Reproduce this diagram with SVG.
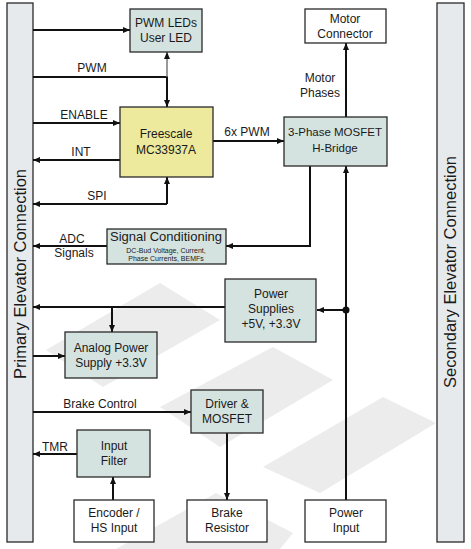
<svg xmlns="http://www.w3.org/2000/svg" width="471" height="549" viewBox="0 0 471 549">
<defs>
<style>
text{font-family:"Liberation Sans",Arial,sans-serif;fill:#1a1a1a;}
.t{font-size:12px;text-anchor:middle;}
.l{font-size:12px;text-anchor:middle;}
.s{font-size:7px;text-anchor:middle;}
.big{font-size:16.5px;text-anchor:middle;}
.box{fill:#D5E3E0;stroke:#2a2a2a;stroke-width:1.3;}
.wbox{fill:#ffffff;stroke:#2a2a2a;stroke-width:1.3;}
.ybox{fill:#EDE99D;stroke:#2a2a2a;stroke-width:1.3;}
.bar{fill:#E7EAEC;stroke:#2a2a2a;stroke-width:1.3;}
.c{fill:none;stroke:#111;stroke-width:2;}
.cg{fill:none;stroke:#777;stroke-width:1.5;}
.wm{fill:#ECECEC;}
</style>
<marker id="a" markerUnits="userSpaceOnUse" markerWidth="8" markerHeight="8" refX="7" refY="3" orient="auto">
<path d="M0,0 L7,3 L0,6 z" fill="#111"/>
</marker>
</defs>
<rect width="471" height="549" fill="#ffffff"/>
<g id="watermark">
<polygon class="wm" points="46,350 160,283 220,320 103,387"/>
<polygon class="wm" points="160,407 273,347 333,380 220,447"/>
<polygon class="wm" points="263,467 383,397 436,423 320,493"/>
<polygon class="wm" points="116,549 216,493 293,533 280,549"/>
</g>
<g id="primary-bar">
<rect class="bar" x="7" y="3" width="26" height="539"/>
<text class="big" transform="translate(26,274) rotate(-90)">Primary Elevator Connection</text>
</g>
<g id="secondary-bar">
<rect class="bar" x="437" y="3" width="27" height="539"/>
<text class="big" transform="translate(456,272) rotate(-90)">Secondary Elevator Connection</text>
</g>
<g id="connectors">
<path class="c" d="M33,30 H130" marker-end="url(#a)"/>
<path class="c" d="M33,77 H167 V107" marker-end="url(#a)"/>
<path class="cg" d="M167,77 V52" marker-end="url(#a)"/>
<path class="c" d="M33,123 H120" marker-end="url(#a)"/>
<path class="c" d="M120,160 H33" marker-end="url(#a)"/>
<path class="c" d="M167,204 H33" marker-end="url(#a)"/>
<path class="c" d="M167,204 V177" marker-end="url(#a)"/>
<path class="c" d="M213,141 H284" marker-end="url(#a)"/>
<path class="c" d="M346,117 V43" marker-end="url(#a)"/>
<path class="c" d="M310,166 V246 H226" marker-end="url(#a)"/>
<path class="c" d="M107,246 H33" marker-end="url(#a)"/>
<path class="c" d="M346,500 V166" marker-end="url(#a)"/>
<path class="c" d="M346,310 H317" marker-end="url(#a)"/>
<circle cx="346" cy="310" r="3.5" fill="#111"/>
<path class="c" d="M225,307 H33" marker-end="url(#a)"/>
<path class="c" d="M112,307 V332" marker-end="url(#a)"/>
<path class="c" d="M33,356 H65" marker-end="url(#a)"/>
<path class="c" d="M33,412 H191" marker-end="url(#a)"/>
<path class="c" d="M77,454 H33" marker-end="url(#a)"/>
<path class="c" d="M113,500 V477" marker-end="url(#a)"/>
<path class="c" d="M227,433 V500" marker-end="url(#a)"/>
<text class="l" x="92" y="72">PWM</text>
<text class="l" x="84" y="119">ENABLE</text>
<text class="l" x="81" y="156">INT</text>
<text class="l" x="97" y="200">SPI</text>
<text class="l" x="247" y="136">6x PWM</text>
<text class="l" x="320" y="82">Motor</text>
<text class="l" x="320" y="97">Phases</text>
<text class="l" x="72" y="243">ADC</text>
<text class="l" x="74" y="257">Signals</text>
<text class="l" x="100" y="408">Brake Control</text>
<text class="l" x="55" y="451">TMR</text>
</g>
<g id="pwm-leds">
<rect class="box" x="130" y="9" width="72" height="43"/>
<text class="t" x="166" y="27">PWM LEDs</text>
<text class="t" x="166" y="42">User LED</text>
</g>
<g id="freescale">
<rect class="ybox" x="120" y="107" width="93" height="70"/>
<text class="t" x="166" y="138">Freescale</text>
<text class="t" x="166" y="154">MC33937A</text>
</g>
<g id="motor-connector">
<rect class="wbox" x="305" y="9" width="81" height="34"/>
<text class="t" x="345" y="23">Motor</text>
<text class="t" x="345" y="38">Connector</text>
</g>
<g id="h-bridge">
<rect class="box" x="284" y="117" width="103" height="49"/>
<text class="t" x="335" y="136" style="font-size:11.5px">3-Phase MOSFET</text>
<text class="t" x="335" y="152" style="font-size:11.5px">H-Bridge</text>
</g>
<g id="signal-conditioning">
<rect class="box" x="107" y="229" width="119" height="35"/>
<text class="t" x="166" y="241" style="font-size:13px">Signal Conditioning</text>
<text class="s" x="166" y="253">DC-Bud Voltage, Current,</text>
<text class="s" x="166" y="261">Phase Currents, BEMFs</text>
</g>
<g id="power-supplies">
<rect class="box" x="225" y="279" width="91" height="63"/>
<text class="t" x="271" y="298">Power</text>
<text class="t" x="271" y="313">Supplies</text>
<text class="t" x="271" y="328">+5V, +3.3V</text>
</g>
<g id="analog-power">
<rect class="box" x="65" y="332" width="92" height="46"/>
<text class="t" x="111" y="352">Analog Power</text>
<text class="t" x="111" y="367">Supply +3.3V</text>
</g>
<g id="driver-mosfet">
<rect class="box" x="191" y="390" width="72" height="43"/>
<text class="t" x="227" y="408">Driver &amp;</text>
<text class="t" x="227" y="423">MOSFET</text>
</g>
<g id="input-filter">
<rect class="box" x="77" y="430" width="73" height="47"/>
<text class="t" x="114" y="450">Input</text>
<text class="t" x="114" y="465">Filter</text>
</g>
<g id="encoder">
<rect class="wbox" x="74" y="500" width="80" height="42"/>
<text class="t" x="114" y="517">Encoder /</text>
<text class="t" x="114" y="532">HS Input</text>
</g>
<g id="brake-resistor">
<rect class="wbox" x="187" y="500" width="80" height="42"/>
<text class="t" x="227" y="517">Brake</text>
<text class="t" x="227" y="532">Resistor</text>
</g>
<g id="power-input">
<rect class="wbox" x="305" y="500" width="81" height="42"/>
<text class="t" x="346" y="517">Power</text>
<text class="t" x="346" y="532">Input</text>
</g>
</svg>
